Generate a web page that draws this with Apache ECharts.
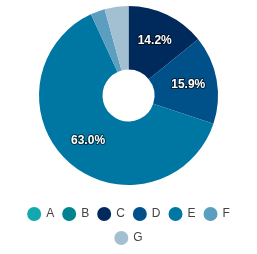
<!DOCTYPE html>
<html>
<head>
<meta charset="utf-8">
<script src="https://cdn.jsdelivr.net/npm/echarts@6/dist/echarts.min.js"></script>
<style>
  html, body { margin: 0; padding: 0; background: #fff; }
  #chart { width: 257px; height: 254px; }
</style>
</head>
<body>
<div id="chart"></div>
<script>
// values (percent)
var categories = ['A', 'B', 'C', 'D', 'E', 'F', 'G']
var values = [0, 0, 14.2, 15.9, 63.0, 2.6, 4.3]
var colors = ['#11a9ad', '#00838f', '#002a5c', '#00508a', '#0077a3', '#5b9ec0', '#a3bfd2']

var data = categories.map(function (name, i) {
  return { name: name, value: values[i] }
})

var legendBase = {
  left: 'center',
  icon: 'circle',
  itemWidth: 14,
  itemHeight: 14,
  itemGap: 8,
  textStyle: { color: '#444', fontSize: 12, fontFamily: 'Liberation Sans' }
}

var chart = echarts.init(document.getElementById('chart'))
chart.setOption({
  animation: false,
  color: colors,
  // two centred rows, like the reference
  legend: [
    Object.assign({}, legendBase, { top: 202, data: categories.slice(0, 6) }),
    Object.assign({}, legendBase, { top: 226, data: categories.slice(6) })
  ],
  series: [
    {
      type: 'pie',
      center: [128.5, 95.5],
      radius: [26, 89.5],
      percentPrecision: 1,
      startAngle: 90,
      data: data,
      label: {
        position: 'inside',
        // small slices get no label
        formatter: function (p) {
          return p.percent >= 5 ? p.percent.toFixed(1) + '%' : ''
        },
        color: '#fff',
        fontSize: 12,
        fontWeight: 'bold',
        fontFamily: 'Liberation Sans',
        textBorderColor: 'rgba(0,0,0,0.6)',
        textBorderWidth: 2
      },
      labelLine: { show: false }
    }
  ]
})
</script>
</body>
</html>
